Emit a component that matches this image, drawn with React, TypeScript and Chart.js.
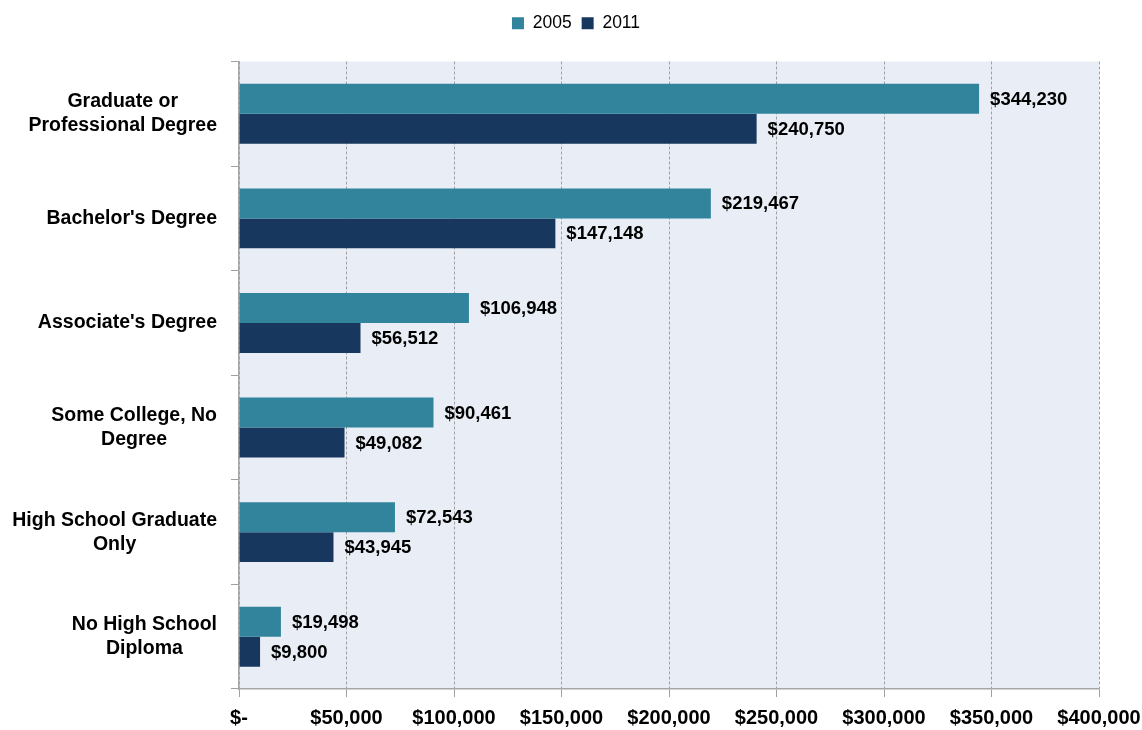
import React, { useEffect, useRef } from "react";
import { Chart, registerables } from "chart.js";

Chart.register(...registerables);

const categories: string[][] = [
  ["Graduate or", "Professional Degree"],
  ["Bachelor's Degree"],
  ["Associate's Degree"],
  ["Some College, No", "Degree"],
  ["High School Graduate", "Only"],
  ["No High School", "Diploma"],
];
const seriesNames = ["2005", "2011"];
const values2005 = [344230, 219467, 106948, 90461, 72543, 19498];
const values2011 = [240750, 147148, 56512, 49082, 43945, 9800];
const xTicks = [0, 50000, 100000, 150000, 200000, 250000, 300000, 350000, 400000];

const FONT = '"Liberation Sans", Arial, sans-serif';
const fmt = (v: number) => (v === 0 ? "$-" : "$" + v.toLocaleString("en-US"));

const bgPlugin = {
  id: "plotBg",
  beforeDraw(chart: any) {
    const { ctx, chartArea } = chart;
    ctx.save();
    ctx.fillStyle = "#E9EEF6";
    ctx.fillRect(chartArea.left, chartArea.top, chartArea.right - chartArea.left, chartArea.bottom - chartArea.top);
    ctx.restore();
  },
};

const labelPlugin = {
  id: "valueLabels",
  afterDatasetsDraw(chart: any) {
    const { ctx } = chart;
    ctx.save();
    ctx.font = `bold 18.5px ${FONT}`;
    ctx.fillStyle = "#000";
    ctx.textAlign = "left";
    ctx.textBaseline = "middle";
    chart.data.datasets.forEach((ds: any, di: number) => {
      const meta = chart.getDatasetMeta(di);
      meta.data.forEach((el: any, i: number) => {
        ctx.fillText(fmt(ds.data[i]), el.x + 11, el.y + 1);
      });
    });
    ctx.restore();
  },
};

// Category labels: each block right-aligned to the axis, lines centred within the block
const categoryLabelPlugin = {
  id: "categoryLabels",
  afterDraw(chart: any) {
    const { ctx } = chart;
    const yScale = chart.scales.y;
    const right = yScale.right - 8 - 14;
    const lh = 24;
    ctx.save();
    ctx.font = `bold 19.5px ${FONT}`;
    ctx.fillStyle = "#000";
    ctx.textAlign = "center";
    ctx.textBaseline = "middle";
    (chart.data.labels as string[][]).forEach((lines, i) => {
      const yc = yScale.getPixelForValue(i);
      const w = Math.max(...lines.map((l) => ctx.measureText(l).width));
      const cx = right - w / 2;
      const y0 = yc - ((lines.length - 1) * lh) / 2;
      lines.forEach((l, k) => ctx.fillText(l, cx, y0 + k * lh));
    });
    ctx.restore();
  },
};

const legendSpacer = {
  id: "legendSpacer",
  beforeInit(chart: any) {
    const orig = chart.legend.fit;
    chart.legend.fit = function () {
      orig.bind(chart.legend)();
      this.height += 19.5;
    };
  },
  afterLayout(chart: any) {
    if (chart.legend) chart.legend.left = 53;
  },
};

export default function App() {
  const ref = useRef<HTMLCanvasElement | null>(null);
  useEffect(() => {
    if (!ref.current) return;
    const chart = new Chart(ref.current, {
      type: "bar",
      data: {
        labels: categories,
        datasets: [
          { label: seriesNames[0], data: values2005, backgroundColor: "#31849B", categoryPercentage: 0.573, barPercentage: 1 },
          { label: seriesNames[1], data: values2011, backgroundColor: "#17375E", categoryPercentage: 0.573, barPercentage: 1 },
        ],
      },
      options: {
        indexAxis: "y",
        responsive: false,
        animation: false,
        layout: { padding: { top: 4.5, left: 0, right: 43, bottom: 0 } },
        plugins: {
          legend: {
            position: "top",
            labels: {
              boxWidth: 12,
              boxHeight: 12,
              padding: 10,
              color: "#000",
              font: { family: FONT, size: 17.5 },
            },
          },
          tooltip: { enabled: false },
        },
        scales: {
          x: {
            min: 0,
            max: 400000,
            afterBuildTicks(scale: any) {
              scale.ticks = xTicks.map((v) => ({ value: v }));
            },
            afterFit(scale: any) {
              scale.height = 41;
              scale.paddingLeft = 0;
              scale.paddingRight = 0;
            },
            grid: { color: "#A0A0A0", tickColor: "#A0A0A0", tickLength: 8, lineWidth: 1 },
            border: { color: "#A6A6A6", dash: [3, 2], width: 1.5 },
            ticks: {
              color: "#000",
              padding: 9,
              maxRotation: 0,
              autoSkip: false,
              font: { family: FONT, size: 20, weight: "bold" },
              callback: (v: any) => fmt(Number(v)),
            },
          },
          y: {
            afterFit(scale: any) {
              scale.width = 239;
            },
            grid: { offset: true, drawOnChartArea: false, color: "#A0A0A0", tickLength: 8 },
            border: { color: "#A6A6A6", width: 1.5 },
            ticks: {
              color: "rgba(0,0,0,0)",
              padding: 14,
              font: { family: FONT, size: 19.5, weight: "bold", lineHeight: 1.25 },
            },
          },
        },
      },
      plugins: [bgPlugin, labelPlugin, categoryLabelPlugin, legendSpacer],
    } as any);
    return () => chart.destroy();
  }, []);
  return (
    <div style={{ position: "absolute", left: 0, top: 0, width: 1142, height: 730, background: "#fff" }}>
      <canvas ref={ref} width={1142} height={730} style={{ width: 1142, height: 730 }} />
    </div>
  );
}
